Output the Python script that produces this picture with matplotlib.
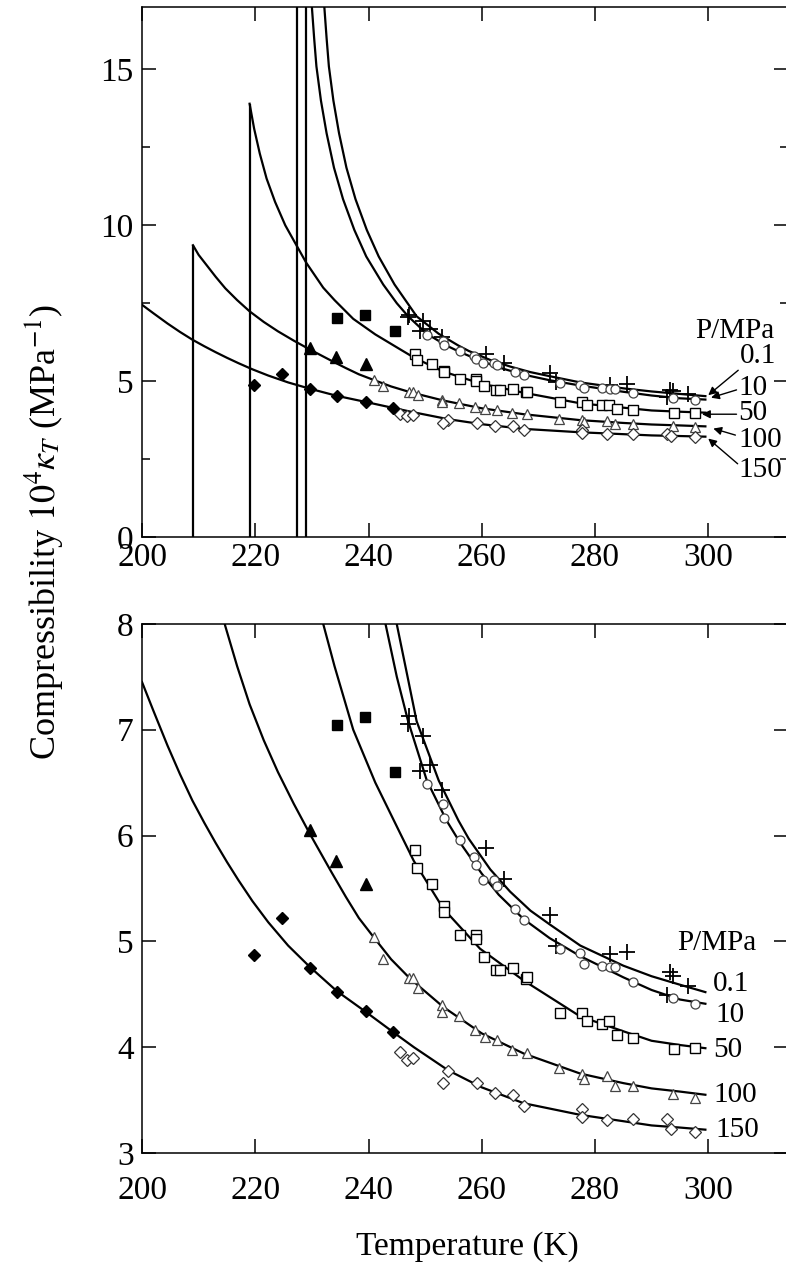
import numpy as np
import matplotlib
matplotlib.use('Agg')
import matplotlib.pyplot as plt

plt.rcParams['font.family'] = ['Liberation Serif', 'DejaVu Serif']
plt.rcParams['mathtext.fontset'] = 'stix'

# fitted curves (T in K, 10^4 kappa_T in MPa^-1)
c01_T = [232.2, 232.6, 233.0, 233.8, 234.8, 236.1, 237.7, 239.7, 241.8, 244.6, 246.9, 248.5, 252.4,
         255.9, 257.7, 261.5, 265.0, 268.6, 272.0, 277.4, 285.0, 290.0, 295.0, 299.5]
c01_v = [17.0, 16.0, 15.1, 14.0, 12.95, 11.85, 10.84, 9.85, 9.0, 8.1, 7.5, 7.08, 6.52,
         6.14, 5.97, 5.68, 5.47, 5.29, 5.16, 4.96, 4.77, 4.67, 4.59, 4.52]
c10_T = [230.0, 230.4, 230.8, 231.6, 232.6, 233.9, 235.5, 237.5, 239.6, 242.6, 245.0, 247.0, 250.3,
         253.8, 256.2, 260.0, 263.0, 267.4, 272.0, 277.4, 285.0, 290.0, 295.0, 299.5]
c10_v = [17.0, 16.0, 15.1, 14.0, 12.95, 11.85, 10.84, 9.85, 9.0, 8.1, 7.5, 7.08, 6.52,
         6.14, 5.93, 5.64, 5.44, 5.21, 5.03, 4.86, 4.66, 4.54, 4.45, 4.41]
c50_T = [219.0, 219.8, 220.8, 222.0, 223.5, 225.3, 227.3, 229.0, 232.0, 234.0, 237.3, 241.2, 245.6,
         248.0, 253.2, 259.7, 267.4, 277.4, 285.0, 290.0, 295.0, 299.5]
c50_v = [13.9, 13.1, 12.3, 11.5, 10.75, 10.0, 9.35, 8.8, 8.0, 7.6, 7.0, 6.5, 6.02,
         5.76, 5.31, 4.93, 4.63, 4.29, 4.15, 4.06, 4.02, 3.99]
c100_T = [209.0, 210.0, 211.5, 213.0, 214.7, 216.8, 219.0, 221.5, 224.0, 226.8, 229.6, 233.5, 236.0,
          238.3, 240.9, 244.0, 247.3, 253.2, 260.0, 267.4, 277.4, 285.0, 290.0, 295.0, 299.5]
c100_v = [9.36, 9.05, 8.7, 8.35, 7.98, 7.6, 7.24, 6.9, 6.6, 6.3, 6.02, 5.65, 5.42,
          5.22, 5.04, 4.83, 4.65, 4.38, 4.13, 3.94, 3.75, 3.66, 3.61, 3.58, 3.55]
c150_T = [200.0, 202.0, 204.5, 206.7, 208.9, 211.0, 213.0, 215.0, 217.0, 219.5, 222.3, 225.8, 229.6,
          234.4, 239.6, 244.4, 248.0, 254.1, 260.0, 267.4, 277.4, 285.0, 290.0, 295.0, 299.5]
c150_v = [7.45, 7.18, 6.85, 6.58, 6.33, 6.12, 5.93, 5.75, 5.58, 5.38, 5.18, 4.96, 4.76,
          4.53, 4.33, 4.14, 4.0, 3.78, 3.62, 3.47, 3.36, 3.30, 3.26, 3.24, 3.22]

# vertical (spinodal) jumps seen in the upper panel
spin_T = [229.0, 227.3, 219.0, 209.0]
spin_top = [17.0, 17.0, 13.9, 9.36]

# measured points
p01_T = [247.1, 246.9, 249.6, 249.1, 250.8, 253.0, 260.8, 264.0, 272.1, 273.1, 282.7, 285.6,
         293.3, 293.7, 292.7, 296.5]
p01_v = [7.13, 7.05, 6.94, 6.61, 6.67, 6.43, 5.88, 5.59, 5.25, 4.96, 4.88, 4.90,
         4.71, 4.67, 4.49, 4.58]
p10_T = [250.3, 253.1, 253.4, 256.2, 258.7, 259.0, 260.3, 262.1, 262.7, 265.9, 267.4, 273.9,
         277.3, 278.0, 281.2, 282.7, 283.6, 286.8, 293.7, 297.7]
p10_v = [6.49, 6.30, 6.17, 5.96, 5.80, 5.72, 5.58, 5.58, 5.52, 5.31, 5.20, 4.93,
         4.89, 4.79, 4.77, 4.76, 4.76, 4.62, 4.46, 4.41]
p50_T = [248.2, 248.5, 251.2, 253.4, 253.4, 256.2, 259.0, 259.0, 260.4, 262.5, 263.2, 265.6,
         267.8, 268.0, 273.9, 277.7, 278.6, 281.2, 282.4, 283.9, 286.7, 293.9, 297.7]
p50_v = [5.86, 5.69, 5.54, 5.33, 5.28, 5.06, 5.06, 5.02, 4.85, 4.73, 4.73, 4.75,
         4.64, 4.66, 4.32, 4.32, 4.25, 4.22, 4.25, 4.11, 4.09, 3.98, 3.99]
p100_T = [240.9, 242.6, 247.1, 247.9, 248.8, 252.9, 252.9, 256.0, 258.8, 260.6, 262.7, 265.3,
          268.0, 273.6, 277.7, 278.0, 282.1, 283.6, 286.8, 293.7, 297.7]
p100_v = [5.04, 4.83, 4.65, 4.65, 4.56, 4.40, 4.33, 4.29, 4.16, 4.10, 4.07, 3.97,
          3.94, 3.80, 3.75, 3.70, 3.73, 3.63, 3.63, 3.56, 3.52]
p150_T = [245.6, 246.8, 247.9, 254.1, 253.2, 259.1, 262.4, 265.6, 267.5, 277.7, 277.7, 282.1,
          286.7, 292.7, 293.4, 297.7]
p150_v = [3.95, 3.88, 3.90, 3.77, 3.66, 3.66, 3.57, 3.55, 3.44, 3.42, 3.34, 3.31,
          3.32, 3.32, 3.23, 3.20]
f50_T = [234.5, 239.4, 244.6]
f50_v = [7.04, 7.12, 6.60]
f100_T = [229.6, 234.3, 239.5]
f100_v = [6.05, 5.76, 5.54]
f150_T = [219.7, 224.7, 229.6, 234.4, 239.6, 244.4]
f150_v = [4.87, 5.22, 4.75, 4.52, 4.34, 4.14]

pressures = ['0.1', '10', '50', '100', '150']

# label positions
top_lab_T = [305.6, 305.3, 305.3, 305.3, 305.3]
top_lab_v = [5.8, 4.79, 3.99, 3.12, 2.15]
top_tail_T = [305.3, 305.0, 305.0, 304.8, 305.2]
top_tail_v = [5.35, 4.72, 3.94, 3.27, 2.35]
top_head_T = [300.0, 300.5, 298.9, 300.9, 300.0]
top_head_v = [4.55, 4.47, 3.94, 3.48, 3.16]
bot_lab_T = [300.9, 301.2, 300.9, 300.9, 301.2]
bot_lab_v = [4.60, 4.30, 3.97, 3.55, 3.22]

fig = plt.figure(figsize=(7.86, 12.66), dpi=100)
ax1 = fig.add_axes([0.1807, 0.5758, 0.8219, 0.4186])
ax2 = fig.add_axes([0.1807, 0.0893, 0.8219, 0.4179])

curves = [(c01_T, c01_v), (c10_T, c10_v), (c50_T, c50_v), (c100_T, c100_v), (c150_T, c150_v)]

ax1.vlines(spin_T, 0, spin_top, color='black', lw=1.6, zorder=2)

for ax in (ax1, ax2):
    for T, v in curves:
        ax.plot(T, v, color='black', lw=1.6, zorder=2)
    ax.plot(p01_T, p01_v, ls='none', marker='+', ms=11, mew=1.3, color='black', zorder=3)
    ax.plot(p10_T, p10_v, ls='none', marker='o', ms=6.5, mew=0.9, mec='#444444', mfc='white', zorder=3)
    ax.plot(p50_T, p50_v, ls='none', marker='s', ms=6.5, mew=1.0, mec='black', mfc='white', zorder=3)
    ax.plot(p100_T, p100_v, ls='none', marker='^', ms=7.5, mew=0.9, mec='#444444', mfc='white', zorder=3)
    ax.plot(p150_T, p150_v, ls='none', marker='D', ms=6, mew=0.9, mec='#333333', mfc='white', zorder=3)
    ax.plot(f50_T, f50_v, ls='none', marker='s', ms=7.5, color='black', zorder=3)
    ax.plot(f100_T, f100_v, ls='none', marker='^', ms=8, color='black', zorder=3)
    ax.plot(f150_T, f150_v, ls='none', marker='D', ms=6.5, color='black', zorder=3)

    ax.set_xlim(200, 314.1)
    ax.set_xticks([200, 220, 240, 260, 280, 300])
    ax.tick_params(which='both', direction='in', top=True, right=True, labelsize=24, width=1.1)
    ax.tick_params(which='major', length=10)
    ax.tick_params(which='minor', length=5.5)
    ax.tick_params(axis='y', pad=6)
    ax.spines['right'].set_visible(False)
    for s in ('left', 'top', 'bottom'):
        ax.spines[s].set_linewidth(1.1)

ax1.set_ylim(0, 17)
ax1.set_yticks([0, 5, 10, 15])
ax1.set_yticks([2.5, 7.5, 12.5], minor=True)
ax1.tick_params(axis='x', pad=4)
ax2.set_ylim(3, 8)
ax2.set_yticks([3, 4, 5, 6, 7, 8])
ax2.tick_params(axis='x', pad=16)

ax1.text(297.7, 6.6, 'P/MPa', fontsize=21, ha='left', va='center')
ax2.text(294.5, 4.98, 'P/MPa', fontsize=21, ha='left', va='center')
for i, p in enumerate(pressures):
    ax1.text(top_lab_T[i], top_lab_v[i], p, fontsize=21, ha='left', va='center')
    ax1.annotate('', xy=(top_head_T[i], top_head_v[i]), xytext=(top_tail_T[i], top_tail_v[i]),
                 arrowprops=dict(arrowstyle='-|>', color='black', lw=1.0, mutation_scale=12,
                                 shrinkA=0, shrinkB=0))
    ax2.text(bot_lab_T[i], bot_lab_v[i], p, fontsize=21, ha='left', va='center')

fig.text(0.055, 0.58, r'Compressibility $10^4\kappa_T$ (MPa$^{-1}$)', rotation=90,
         ha='center', va='center', fontsize=26)
fig.text(0.595, 1 - 1247 / 1266, 'Temperature (K)', ha='center', va='center', fontsize=24)

fig.savefig('out.png', dpi=100)
